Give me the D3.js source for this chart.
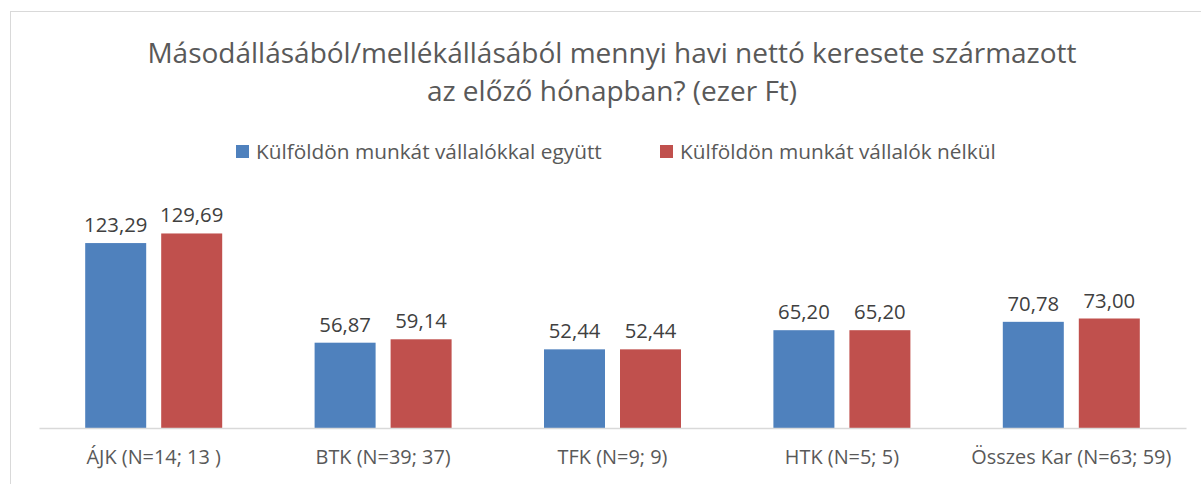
<!DOCTYPE html>
<html>
<head>
<meta charset="utf-8">
<script src="https://cdn.jsdelivr.net/npm/d3@7"></script>
<style>
  body { margin: 0; background: #fff; }
  svg { display: block; font-family: "Open Sans", sans-serif; }
</style>
</head>
<body>
<svg id="chart" width="1201" height="484"></svg>
<script>
// Faculties with respondent counts
const categories = ["ÁJK (N=14; 13 )", "BTK (N=39; 37)", "TFK (N=9; 9)", "HTK (N=5; 5)", "Összes Kar (N=63; 59)"];
const seriesNames = ["Külföldön munkát vállalókkal együtt", "Külföldön munkát vállalók nélkül"];
const withAbroad = [123.29, 56.87, 52.44, 65.20, 70.78];
const withoutAbroad = [129.69, 59.14, 52.44, 65.20, 73.00];
const colors = ["#4F81BD", "#C0504D"];
const titleLines = ["Másodállásából/mellékállásából mennyi havi nettó keresete származott", "az előző hónapban? (ezer Ft)"];

const svg = d3.select("#chart");
const textColor = "#595959";

// chart frame
svg.append("rect").attr("x", 10.5).attr("y", 11.5).attr("width", 1200).attr("height", 480)
  .attr("fill", "#fff").attr("stroke", "#d9d9d9").attr("stroke-width", 1);

const plot = { left: 39, right: 1186, top: 218, bottom: 428 };

const x0 = d3.scaleBand().domain(categories).range([plot.left, plot.right]).paddingInner(0).paddingOuter(0);
const y = d3.scaleLinear().domain([0, 140]).range([plot.bottom, plot.top]);

const barW = 61, innerGap = 15;
const x1 = d3.scaleOrdinal().domain([0, 1]).range([-(innerGap / 2 + barW), innerGap / 2]);

const rows = categories.map((c, i) => ({ cat: c, vals: [withAbroad[i], withoutAbroad[i]] }));

const groups = svg.append("g").selectAll("g").data(rows).join("g")
  .attr("transform", d => `translate(${x0(d.cat) + x0.bandwidth() / 2},0)`);

groups.selectAll("rect").data(d => d.vals.map((v, s) => ({ v, s }))).join("rect")
  .attr("x", d => x1(d.s))
  .attr("y", d => y(d.v))
  .attr("width", barW)
  .attr("height", d => y(0) - y(d.v))
  .attr("fill", d => colors[d.s]);

groups.selectAll("text.val").data(d => d.vals.map((v, s) => ({ v, s }))).join("text")
  .attr("class", "val")
  .attr("x", d => x1(d.s) + barW / 2)
  .attr("y", d => y(d.v) - 11)
  .attr("text-anchor", "middle")
  .attr("font-size", 20.3)
  .attr("fill", "#404040")
  .text(d => d.v.toFixed(2).replace(".", ","));

// category axis
const xAxis = svg.append("g").attr("transform", `translate(0,${plot.bottom})`)
  .call(d3.axisBottom(x0).tickSize(0).tickPadding(22));
xAxis.select(".domain").attr("stroke", "#d9d9d9").attr("stroke-width", 1.3);
xAxis.selectAll("text").attr("font-size", 19.9).attr("fill", textColor)
  .attr("font-family", '"Open Sans", sans-serif');

// title
svg.append("text").attr("text-anchor", "middle").attr("font-size", 28).attr("fill", textColor)
  .selectAll("tspan").data(titleLines).join("tspan")
  .attr("x", 612).attr("y", (d, i) => 63 + i * 38).text(d => d);

// legend
const legend = svg.append("g");
const legX = [236, 660];
seriesNames.forEach((name, i) => {
  legend.append("rect").attr("x", legX[i]).attr("y", 145).attr("width", 13).attr("height", 13).attr("fill", colors[i]);
  legend.append("text").attr("x", legX[i] + 20).attr("y", 159).attr("font-size", 20.8).attr("fill", textColor).text(name);
});
</script>
</body>
</html>
